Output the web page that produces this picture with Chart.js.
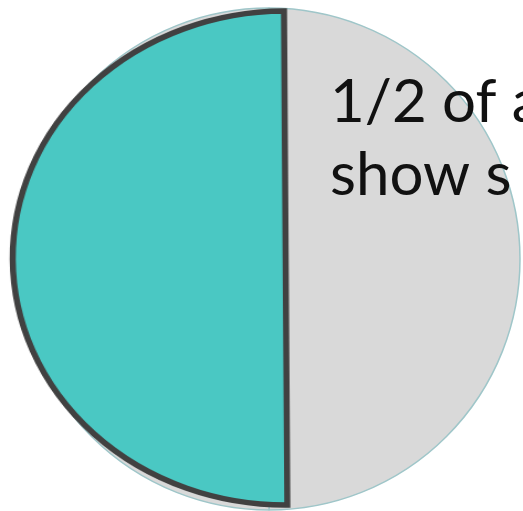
<!DOCTYPE html>
<html>
<head>
<meta charset="utf-8">
<script src="https://cdn.jsdelivr.net/npm/chart.js@4"></script>
<style>
    html, body { margin: 0; padding: 0; background: #ffffff; }
    #wrap { position: relative; width: 523px; height: 511px; overflow: hidden; }
    #wrap canvas { position: absolute; left: 0; top: 0; }
    #topChart { transform-origin: 0 0; transform: scaleX(1.105); }
</style>
</head>
<body>
<div id="wrap">
    <canvas id="baseChart" width="523" height="511"></canvas>
    <canvas id="topChart" width="523" height="511"></canvas>
</div>
<script>
// 値
const labels = ['1/2 of all', 'rest'];
const shares = [50, 50];
const captionLines = ['1/2 of a', 'show s'];

// 色
const tealColor = '#4ac8c3';
const grayColor = '#d9d9d9';

window.addEventListener('DOMContentLoaded', () => {
    // キャプション
    const captionPlugin = {
        id: 'caption',
        afterDatasetsDraw(chart) {
            const c = chart.ctx;
            c.save();
            c.fillStyle = '#111111';
            c.font = '60px Lato, "Open Sans", sans-serif';
            c.textBaseline = 'alphabetic';
            captionLines.forEach((line, i) => {
                c.fillText(line, 330, 122 + i * 73);
            });
            c.restore();
        }
    };

    // 灰色の円
    new Chart(document.getElementById('baseChart').getContext('2d'), {
        type: 'pie',
        data: {
            labels: labels,
            datasets: [{
                data: shares,
                backgroundColor: [grayColor, grayColor],
                borderColor: '#9fc6c9',
                borderWidth: 1.5
            }]
        },
        options: {
            responsive: false,
            animation: false,
            events: [],
            radius: 251,
            layout: { padding: { left: 15, right: 0, top: 7, bottom: 0 } },
            plugins: { legend: { display: false }, tooltip: { enabled: false } }
        },
        plugins: [captionPlugin]
    });

    // 1/2 の扇形
    new Chart(document.getElementById('topChart').getContext('2d'), {
        type: 'pie',
        data: {
            labels: labels,
            datasets: [{
                data: shares,
                backgroundColor: [tealColor, 'rgba(0,0,0,0)'],
                borderColor: ['#414141', 'rgba(0,0,0,0)'],
                borderWidth: [5.5, 0],
                borderJoinStyle: 'miter'
            }]
        },
        options: {
            responsive: false,
            animation: false,
            events: [],
            rotation: 179.65,
            radius: 247,
            layout: { padding: { left: 0, right: 6, top: 5, bottom: 0 } },
            plugins: { legend: { display: false }, tooltip: { enabled: false } }
        }
    });
});
</script>
</body>
</html>
